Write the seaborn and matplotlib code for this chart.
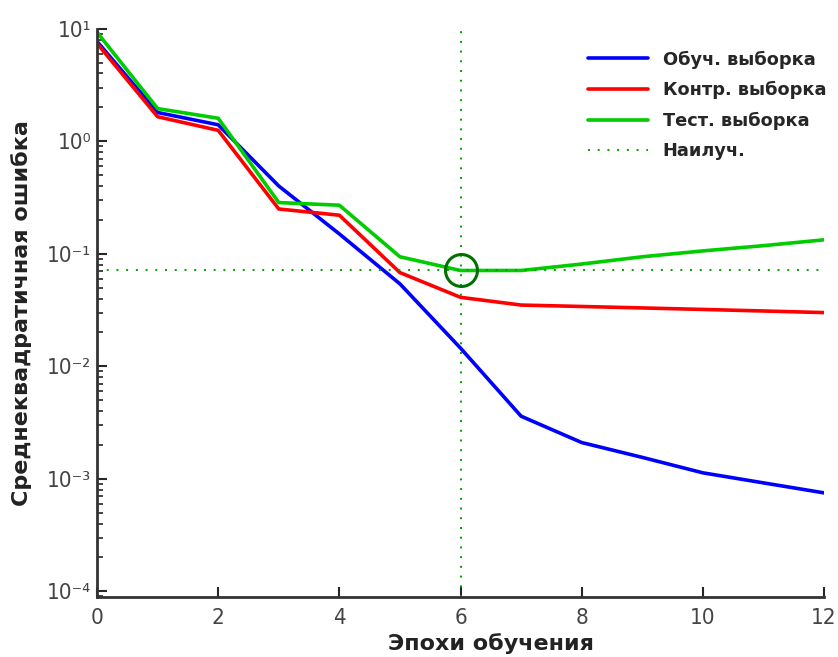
import numpy as np
import pandas as pd
import matplotlib
matplotlib.use('Agg')
from matplotlib import pyplot as plt
import seaborn as sns

# Values
epochs = [0, 1, 2, 3, 4, 5, 6, 7, 8, 9, 10, 11, 12]
train_mse = [7.7, 1.8, 1.4, 0.40, 0.15, 0.054, 0.0145, 0.0036, 0.0021, 0.00155, 0.00113, 0.00092, 0.00075]
val_mse = [7.4, 1.65, 1.25, 0.25, 0.22, 0.068, 0.041, 0.035, 0.034, 0.033, 0.032, 0.031, 0.030]
test_mse = [9.3, 1.95, 1.6, 0.285, 0.27, 0.094, 0.071, 0.071, 0.081, 0.094, 0.106, 0.118, 0.133]
best_epoch = 6
best_mse = 0.071

series_names = ['Обуч. выборка', 'Контр. выборка', 'Тест. выборка']
series_colors = ['#0000ff', '#ff0000', '#00cc00']
x_tick_labels = ['0', '2', '4', '6', '8', '10', '12']
y_tick_labels = ['10⁻⁴', '10⁻³', '10⁻²', '10⁻¹', '10⁰', '10¹']

sns.set_style('ticks')
plt.rcParams['font.family'] = ['DejaVu Sans']

df = pd.DataFrame({
    'epoch': epochs * 3,
    'mse': train_mse + val_mse + test_mse,
    'set': [series_names[0]] * len(epochs) + [series_names[1]] * len(epochs) + [series_names[2]] * len(epochs),
})

fig = plt.figure(figsize=(8.38, 6.57), dpi=100)
ax = fig.add_axes([0.1158, 0.0913, 0.8675, 0.8650])

sns.lineplot(data=df, x='epoch', y='mse', hue='set', palette=series_colors,
             hue_order=series_names, linewidth=2.6, ax=ax)

# best epoch markers
ax.axvline(best_epoch, color='#00a000', linestyle=(0, (1, 4)), linewidth=1.4, label='Наилуч.')
ax.axhline(best_mse, color='#00a000', linestyle=(0, (1, 4)), linewidth=1.4)
ax.plot([best_epoch], [best_mse], marker='o', markersize=23, markerfacecolor='none',
        markeredgecolor='#007000', markeredgewidth=2.2)

ax.set_yscale('log')
ax.set_xlim(0, 12)
ax.set_ylim(8.9e-5, 10)
ax.set_xticks([0, 2, 4, 6, 8, 10, 12])
ax.set_yticks([1e-4, 1e-3, 1e-2, 1e-1, 1e0, 1e1])

tick_font = ['Liberation Sans Narrow', 'DejaVu Sans']
ax.set_xticklabels(x_tick_labels, family=tick_font, fontstretch='condensed', fontsize=16, color='#444444')
ax.set_yticklabels(y_tick_labels, family=tick_font, fontstretch='condensed', fontsize=16, color='#444444')

ax.tick_params(axis='x', direction='in', length=7, width=1.5, pad=8)
ax.tick_params(axis='y', direction='in', length=7, width=1.5, pad=4)
ax.tick_params(axis='y', which='minor', direction='in', length=4, width=1.2)
sns.despine(ax=ax)
for sp in ['left', 'bottom']:
    ax.spines[sp].set_linewidth(2)
    ax.spines[sp].set_color('#333333')

ax.set_xlabel('Эпохи обучения', fontsize=16, fontweight='bold', color='#222222')
ax.xaxis.set_label_coords(0.542, -0.063)
ax.set_ylabel('Среднеквадратичная ошибка', fontsize=16, fontweight='bold', color='#222222')
ax.yaxis.set_label_coords(-0.09, 0.5)

leg = ax.legend(loc='upper right', bbox_to_anchor=(1.025, 0.99), frameon=False,
                prop={'weight': 'bold', 'size': 12.8}, handlelength=3.4, labelspacing=0.7)

fig.savefig('out.png', dpi=100)
